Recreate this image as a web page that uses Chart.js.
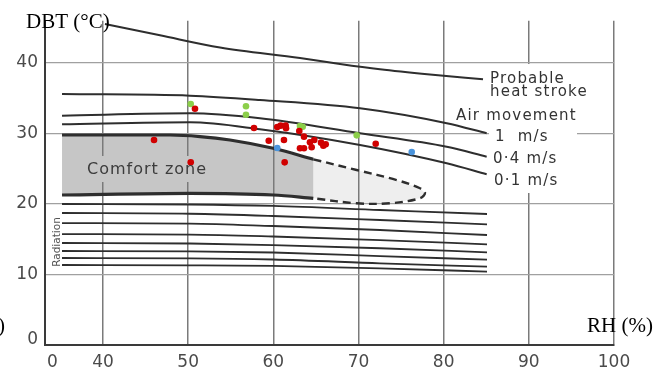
<!DOCTYPE html>
<html><head><meta charset="utf-8">
<script src="https://cdn.jsdelivr.net/npm/chart.js@4/dist/chart.umd.min.js"></script>
<style>html,body{margin:0;padding:0;background:#fff;}#wrap{width:657px;height:367px;position:relative;}</style>
</head><body><div id="wrap"><canvas id="c" width="657" height="367"></canvas></div>
<script>
// ---- tick labels ----
const xTickValues = [34.07, 40, 50, 60, 70, 80, 90, 100];
const xTickLabels = ['0', '40', '50', '60', '70', '80', '90', '100'];
const yTickValues = [0.7, 10, 20, 30, 40];
const yTickLabels = ['0', '10', '20', '30', '40'];

// ---- curves (RH %, DBT °C) ----
const heatStroke = [[40.23,45.53],[46.69,43.93],[53.74,42.20],[63.13,40.71],[67.83,39.86],[72.52,39.11],[78.39,38.37],[84.62,37.69]];
const air1 = [[35.19,35.60],[50.21,35.36],[58.43,34.75],[70.18,33.57],[80.36,31.45],[85.05,30.03]];
const air04 = [[35.19,32.52],[50.21,32.87],[58.43,32.16],[70.18,30.03],[80.36,28.13],[85.05,26.71]];
const air01 = [[35.19,31.31],[50.21,31.59],[58.43,30.60],[70.18,28.37],[80.36,25.77],[85.05,24.21]];
const comfortTop = [[35.19,29.79],[47.87,29.79],[51.39,29.57],[54.91,29.08],[59.99,27.90],[64.69,26.34]];
const comfortBottom = [[35.19,21.28],[50.21,21.52],[59.99,21.28],[64.69,20.81]];
const comfortDashed = [[64.69,26.34],[69.79,24.82],[74.48,23.40],[77.22,22.23],[77.81,21.56],[77.22,20.81],[73.70,20.10],[69.79,20.10],[64.69,20.81]];
const radX = [35.19, 50.21, 59.96, 72.52, 85.09];
const rad1 = [20.00, 19.93, 19.72, 19.15, 18.58];
const rad2 = [18.72, 18.62, 18.30, 17.73, 17.12];
const rad3 = [17.30, 17.23, 16.88, 16.31, 15.60];
const rad4 = [15.74, 15.67, 15.39, 14.89, 14.28];
const rad5 = [14.47, 14.40, 14.18, 13.72, 13.15];
const rad6 = [13.33, 13.29, 13.12, 12.62, 12.10];
const rad7 = [12.34, 12.30, 12.13, 11.59, 11.11];
const rad8 = [11.35, 11.30, 11.21, 10.88, 10.40];

// ---- observations ----
const redPoints = [[45.99,29.08],[50.30,25.91],[50.80,33.52],[57.73,30.78],[59.46,28.98],[60.46,30.92],[60.86,31.11],[61.45,31.11],[61.49,30.74],[61.25,29.08],[61.33,25.91],[63.05,30.35],[63.60,29.55],[63.13,27.90],[63.60,27.90],[64.30,28.75],[64.50,28.04],[64.81,29.08],[65.60,28.70],[65.87,28.27],[66.15,28.47],[72.02,28.55]];
const greenPoints = [[50.30,34.18],[56.79,33.86],[56.79,32.67],[63.13,31.06],[63.45,30.96],[69.79,29.74]];
const bluePoints = [[60.46,27.94],[76.25,27.38]];

const toXY = a => a.map(p => ({x: p[0], y: p[1]}));
const lineDs = (arr, w, extra) => Object.assign({data: toXY(arr), showLine: true, pointRadius: 0, borderColor: '#2e2e2e', borderWidth: w, cubicInterpolationMode: 'monotone', fill: false, order: 1}, extra || {});
const radDs = ys => lineDs(ys.map((y, i) => [radX[i], y]), 1.8);
const dotDs = (arr, col) => ({data: toXY(arr), pointRadius: 3.3, pointBackgroundColor: col, pointBorderWidth: 0, borderColor: col, showLine: false, order: 0});

const fillPlugin = {
  id: 'fills',
  beforeDraw(chart) {
    const {ctx, scales: {x, y}} = chart;
    const P = p => [x.getPixelForValue(p[0]), y.getPixelForValue(p[1])];
    ctx.save();
    ctx.beginPath();
    comfortDashed.forEach((p, i) => { const q = P(p); i ? ctx.lineTo(q[0], q[1]) : ctx.moveTo(q[0], q[1]); });
    ctx.closePath();
    ctx.fillStyle = '#eeeeee';
    ctx.fill();
    ctx.beginPath();
    comfortTop.forEach((p, i) => { const q = P(p); i ? ctx.lineTo(q[0], q[1]) : ctx.moveTo(q[0], q[1]); });
    comfortBottom.slice().reverse().forEach(p => { const q = P(p); ctx.lineTo(q[0], q[1]); });
    ctx.closePath();
    ctx.fillStyle = '#c6c6c6';
    ctx.fill();
    ctx.restore();
  },
  beforeDatasetsDraw(chart) {
    const {ctx} = chart;
    ctx.save();
    ctx.fillStyle = '#ffffff';
    ctx.fillRect(488, 66, 104, 34);
    ctx.fillRect(453, 103, 132, 21);
    ctx.fillRect(489, 126, 88, 19);
    ctx.fillRect(489, 148, 89, 19);
    ctx.fillRect(489, 170, 89, 20);
    ctx.fillRect(524, 64, 10, 129);
    ctx.fillStyle = '#c6c6c6';
    ctx.fillRect(84, 156, 125, 26);
    ctx.restore();
  },
  afterDatasetsDraw(chart) {
    const {ctx} = chart;
    ctx.save();
    ctx.textBaseline = 'alphabetic';
    ctx.textAlign = 'left';
    ctx.fillStyle = '#333333';
    ctx.font = '15px "DejaVu Sans"';
    ctx.letterSpacing = '1.2px';
    ctx.fillText('Probable', 490, 82.5);
    ctx.fillText('heat stroke', 490, 96);
    ctx.fillText('Air movement', 456, 119.5);
    ctx.fillText('1  m/s', 495, 140.5);
    ctx.fillText('0·4 m/s', 493, 162.5);
    ctx.fillText('0·1 m/s', 494, 184.5);
    ctx.fillStyle = '#3c3c3c';
    ctx.font = '16px "DejaVu Sans"';
    ctx.letterSpacing = '1px';
    ctx.fillText('Comfort zone', 87, 174);
    ctx.letterSpacing = '0px';
    ctx.fillStyle = '#000000';
    ctx.font = '21px "Liberation Serif"';
    ctx.fillText('DBT (°C)', 26, 28);
    ctx.fillText('RH (%)', 587, 332);
    ctx.fillText(')', -2, 332);
    ctx.save();
    ctx.translate(57.5, 242);
    ctx.rotate(-Math.PI / 2);
    ctx.textAlign = 'center';
    ctx.textBaseline = 'middle';
    ctx.fillStyle = '#555555';
    ctx.font = '10.5px "DejaVu Sans"';
    ctx.fillText('Radiation', 0, 0);
    ctx.restore();
    ctx.restore();
  },
  afterDraw(chart) {
    // first x tick label ("0"), drawn at its scale position
    const {ctx, scales: {x}} = chart;
    ctx.save();
    ctx.letterSpacing = '0px';
    ctx.fillStyle = '#4a4a4a';
    ctx.font = '17px "DejaVu Sans"';
    ctx.textAlign = 'center';
    ctx.textBaseline = 'middle';
    ctx.fillText(xTickLabels[0], x.getPixelForValue(xTickValues[0]), x.top + 7 + 10.2);
    ctx.restore();
  }
};

new Chart(document.getElementById('c'), {
  type: 'scatter',
  data: {
    datasets: [
      dotDs(redPoints, '#d00000'),
      dotDs(greenPoints, '#8ccf4a'),
      dotDs(bluePoints, '#4a94dc'),
      lineDs(heatStroke, 2),
      lineDs(air1, 2),
      lineDs(air04, 2),
      lineDs(air01, 2),
      lineDs(comfortTop, 3.2),
      lineDs(comfortBottom, 3.2),
      lineDs(comfortDashed, 2.4, {borderDash: [8, 5], cubicInterpolationMode: 'default', tension: 0.35}),
      radDs(rad1), radDs(rad2), radDs(rad3), radDs(rad4),
      radDs(rad5), radDs(rad6), radDs(rad7), radDs(rad8)
    ]
  },
  options: {
    responsive: false,
    animation: false,
    devicePixelRatio: 1,
    layout: {padding: {left: 0, right: 43, top: 20.7, bottom: 0}},
    plugins: {legend: {display: false}, tooltip: {enabled: false}},
    scales: {
      x: {
        type: 'linear', min: 33.19, max: 100,
        afterBuildTicks: s => { s.ticks = xTickValues.map(v => ({value: v})); },
        afterFit: s => { s.height = 22; },
        ticks: {autoSkip: false, maxRotation: 0, padding: 7, color: '#4a4a4a',
          font: {family: 'DejaVu Sans', size: 17},
          callback: (v, i) => i === 0 ? '' : xTickLabels[i]},
        grid: {drawTicks: false, color: c => c.index === 0 ? 'rgba(0,0,0,0)' : '#7a7a7a', lineWidth: 1.5},
        border: {display: true, color: '#3a3a3a', width: 2}
      },
      y: {
        type: 'linear', min: 0, max: 46,
        afterBuildTicks: s => { s.ticks = yTickValues.map(v => ({value: v})); },
        afterFit: s => { s.width = 45; },
        ticks: {autoSkip: false, padding: 7, color: '#4a4a4a',
          font: {family: 'DejaVu Sans', size: 17},
          callback: (v, i) => yTickLabels[i]},
        grid: {drawTicks: false, color: c => c.index === 0 ? 'rgba(0,0,0,0)' : '#a0a0a0', lineWidth: 1.2},
        border: {display: true, color: '#3a3a3a', width: 2}
      }
    }
  },
  plugins: [fillPlugin]
});
</script>
</body></html>
